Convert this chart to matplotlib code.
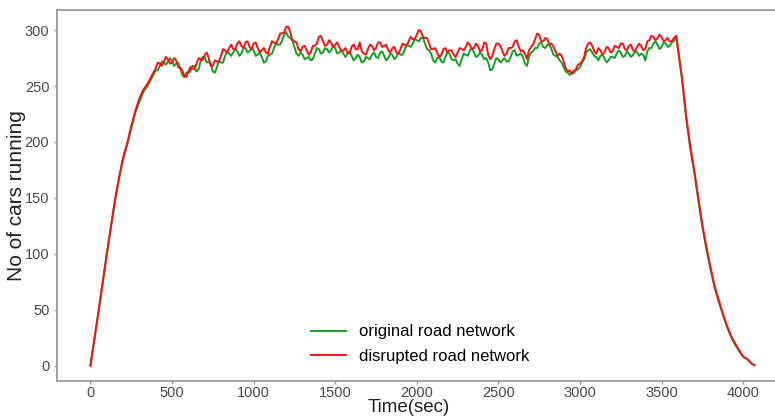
import matplotlib
matplotlib.use('Agg')
import matplotlib.pyplot as plt
import numpy as np

plt.rcParams['font.family'] = ['Liberation Sans', 'DejaVu Sans']

# time (sec) and number of cars running
timeList = [0, 50, 100, 150, 175, 200, 225, 250, 275, 300, 325, 350, 375,
            400, 425, 450, 475, 500, 525, 550, 575, 600, 625, 650, 675, 700,
            725, 750, 775, 800, 825, 850, 875, 900, 925, 950, 975, 1000, 1025,
            1050, 1075, 1100, 1125, 1150, 1175, 1200, 1225, 1250, 1275, 1300,
            1325, 1350, 1375, 1400, 1425, 1450, 1475, 1500, 1525, 1550, 1575,
            1600, 1625, 1650, 1675, 1700, 1725, 1750, 1775, 1800, 1825, 1850,
            1875, 1900, 1925, 1950, 1975, 2000, 2025, 2050, 2075, 2100, 2125,
            2150, 2175, 2200, 2225, 2250, 2275, 2300, 2325, 2350, 2375, 2400,
            2425, 2450, 2475, 2500, 2525, 2550, 2575, 2600, 2625, 2650, 2675,
            2700, 2725, 2750, 2775, 2800, 2825, 2850, 2875, 2900, 2925, 2950,
            2975, 3000, 3025, 3050, 3075, 3100, 3125, 3150, 3175, 3200, 3225,
            3250, 3275, 3300, 3325, 3350, 3375, 3400, 3425, 3450, 3475, 3500,
            3525, 3550, 3575, 3590, 3613, 3625, 3650, 3675, 3700, 3725, 3750,
            3775, 3800, 3825, 3850, 3875, 3900, 3925, 3950, 3975, 4000, 4025,
            4050, 4070]

disrupted = [0, 49, 100, 148, 168, 186, 199, 214, 228, 239, 247, 252, 259,
             266, 270, 272, 274, 271, 273, 266, 259, 263, 266, 270, 274, 278,
             275, 268, 272, 277, 282, 284, 283, 288, 286, 289, 285, 288, 284,
             282, 280, 285, 289, 292, 297, 303, 298, 290, 283, 285,
             282, 280, 286, 294, 290, 287, 289, 287, 285, 282, 280,
             285, 283, 289, 279, 283, 286, 284, 289, 286, 282, 284,
             280, 283, 287, 290, 292, 296, 299, 293, 288, 283, 280,
             278, 284, 282, 278, 280, 283, 285, 287, 284, 286, 282,
             288, 274, 283, 288, 281, 279, 284, 290, 285, 282, 274,
             285, 292, 296, 290, 292, 288, 281, 279, 272, 263, 261,
             265, 270, 276, 288, 286, 279, 282, 280, 284, 281, 285,
             288, 283, 286, 282, 285, 286, 283, 291, 294, 293, 294,
             291, 290, 293, 295, 270, 258, 224, 197, 175, 150, 126,
             106, 88, 71, 59, 47, 36, 27, 20, 14, 8, 6,
             2, 0.5]

original = [0, 49, 99, 147, 167, 185, 197, 212, 226, 236, 245, 250, 257,
            264, 268, 271, 272, 272, 270, 266, 258, 262, 268, 263, 272, 276,
            272, 263, 267, 271, 277, 279, 280, 281, 279, 284, 281, 282, 278,
            276, 272, 278, 284, 287, 291, 298, 293, 285, 277, 278,
            275, 273, 279, 283, 280, 283, 282, 284, 280, 279, 279,
            277, 275, 276, 272, 275, 278, 276, 280, 277, 275, 278,
            276, 278, 282, 286, 288, 291, 293, 288, 282, 273, 275,
            272, 276, 279, 273, 270, 274, 278, 282, 280, 277, 278,
            275, 264, 270, 274, 273, 272, 276, 282, 278, 276, 268,
            280, 284, 288, 285, 287, 283, 277, 273, 267, 262, 262,
            264, 267, 274, 282, 280, 276, 277, 275, 273, 276, 279,
            280, 277, 279, 278, 280, 279, 273, 284, 288, 287, 285,
            288, 286, 290, 294, 269, 256, 222, 195, 173, 148, 124,
            104, 86, 70, 57, 46, 35, 26, 19, 13, 8, 6,
            2, 0.5]

# extra in-between readings on the plateau (412.5 s ... 3562.5 s, every 25 s)
midTimeList = list(np.arange(412.5, 3575, 25))

disruptedMid = [271, 268, 276, 270, 275, 267, 264, 258, 267, 265, 275, 273,
                280, 268, 273, 272, 283, 280, 287, 283, 290, 284, 290, 283,
                289, 280, 284, 279, 290, 288, 297, 298, 303, 291, 289, 281,
                286, 278, 286, 288, 295, 286, 291, 285, 289, 281, 284, 279,
                287, 283, 281, 278, 287, 282, 289, 285, 287, 280, 285, 279,
                288, 286, 294, 292, 300, 294, 293, 283, 284, 276, 283, 280,
                282, 276, 284, 282, 289, 283, 288, 281, 289, 278, 277, 288,
                286, 277, 284, 285, 291, 281, 279, 282, 287, 297, 290, 293,
                287, 285, 277, 277, 266, 264, 262, 269, 272, 284, 289, 281,
                284, 278, 285, 280, 286, 284, 288, 282, 287, 281, 288, 282,
                290, 295, 291, 296, 290, 293, 290]

originalMid = [264, 272, 269, 275, 268, 271, 260, 262, 263, 268, 265, 276,
               271, 270, 262, 272, 271, 281, 277, 283, 277, 284, 280, 284,
               277, 280, 271, 277, 279, 288, 287, 296, 294, 291, 279, 280,
               274, 276, 274, 284, 279, 284, 280, 286, 279, 282, 276, 281,
               273, 278, 271, 276, 274, 280, 275, 281, 273, 279, 274, 280,
               278, 287, 285, 292, 290, 293, 283, 279, 271, 276, 271, 280,
               274, 274, 268, 279, 277, 284, 276, 280, 274, 271, 265, 275,
               271, 275, 272, 281, 277, 279, 270, 276, 281, 284, 289, 284,
               287, 278, 276, 271, 263, 260, 264, 265, 271, 280, 283, 277,
               273, 278, 271, 276, 275, 282, 276, 281, 276, 281, 277, 278,
               281, 284, 290, 283, 289, 285, 289]

xTicks = [0, 500, 1000, 1500, 2000, 2500, 3000, 3500, 4000]
yTicks = [0, 50, 100, 150, 200, 250, 300]

# put the readings in time order
allTimes = np.array(timeList + midTimeList)
order = np.argsort(allTimes)
timeSorted = allTimes[order]
disruptedSorted = np.array(disrupted + disruptedMid)[order]
originalSorted = np.array(original + originalMid)[order]

figureWidth = 7.75
figureHeight = 4.19
fig = plt.figure(figsize=(figureWidth, figureHeight), dpi=100)

# left, bottom, width, height
panel1 = plt.axes([57/775, 1-381/419, 1-57/775, (381-10)/419])

green = '#12a020'
red = '#ff1010'

panel1.plot(timeSorted, originalSorted, color=green, linewidth=1.4,
            label='original road network')
panel1.plot(timeSorted, disruptedSorted, color=red, linewidth=1.4,
            label='disrupted road network')

panel1.set_xlim(-205, 4195)
panel1.set_ylim(-13.7, 318)
panel1.set_xticks(xTicks)
panel1.set_yticks(yTicks)

spineColor = '#9a9a9a'
for side in ['left', 'bottom', 'top']:
    panel1.spines[side].set_color(spineColor)
    panel1.spines[side].set_linewidth(1.3)
panel1.spines['right'].set_visible(False)

panel1.tick_params(axis='both', colors='#9a9a9a', labelcolor='#4a4a4a',
                   labelsize=10.5, length=2.5, width=1, pad=3)
panel1.tick_params(axis='x', pad=1)

panel1.set_xlabel('Time(sec)', fontsize=13.5, color='#222222')
panel1.xaxis.set_label_coords(0.49, -0.0475)
panel1.xaxis.label.set_va('top')
panel1.set_ylabel('No of cars running', fontsize=15, color='#222222')
panel1.yaxis.set_label_coords(-0.057, 0.5)
panel1.yaxis.label.set_va('center')

panel1.legend(loc='center', bbox_to_anchor=(420/775, 1-344/419),
              bbox_transform=fig.transFigure, frameon=False, fontsize=12,
              handlelength=2.1, handletextpad=0.8, labelspacing=0.55)

plt.savefig('out.png', dpi=100)
